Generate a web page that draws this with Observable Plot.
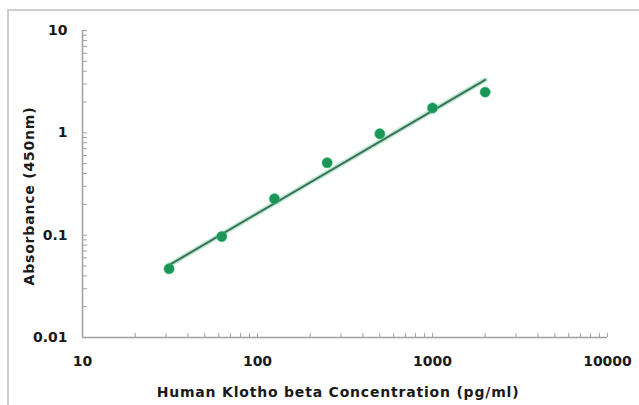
<!DOCTYPE html>
<html>
<head>
<meta charset="utf-8">
<script src="https://cdn.jsdelivr.net/npm/d3@7"></script>
<script src="https://cdn.jsdelivr.net/npm/@observablehq/plot@0.6"></script>
<style>
  html, body { margin: 0; padding: 0; background: #fff; overflow: hidden; }
  #wrap { position: relative; width: 639px; height: 405px; }
  #frame { position: absolute; left: 7px; top: 9px; width: 640px; height: 400px;
           border-left: 2px solid #cfcfcf; border-top: 2px solid #cfcfcf; pointer-events: none; }
  #wrap svg { position: absolute; left: 0; top: 0; }
  .xlab text { letter-spacing: 0.8px; }
  .ylab text { letter-spacing: 0.8px; }
</style>
</head>
<body>
<div id="wrap"><div id="frame"></div></div>
<script>
// Data
const concentration = [31.25, 62.5, 125, 250, 500, 1000, 2000];
const absorbance = [0.047, 0.097, 0.227, 0.51, 0.98, 1.75, 2.5];
// fitted line end points
const fitX = [31.25, 2000];
const fitY = [0.051, 3.3];
const xMajor = [10, 100, 1000, 10000];
const yMajor = [0.01, 0.1, 1, 10];
const xLabel = "Human Klotho beta Concentration (pg/ml)";
const yLabel = "Absorbance (450nm)";

const points = concentration.map((x, i) => ({x, y: absorbance[i]}));
const fit = fitX.map((x, i) => ({x, y: fitY[i]}));
const minor = (majors) => majors.slice(0, -1).flatMap(m => d3.range(1, 10).map(k => m * k)).concat(majors.slice(-1));
const xTicks = minor(xMajor);
const yTicks = minor(yMajor);

const font = "'DejaVu Sans', 'Liberation Sans', Arial, sans-serif";
const chart = Plot.plot({
  width: 639,
  height: 405,
  marginLeft: 82,
  marginRight: 32,
  marginTop: 30,
  marginBottom: 68,
  style: {fontFamily: font, background: "transparent", overflow: "visible"},
  x: {type: "log", domain: [10, 10000]},
  y: {type: "log", domain: [0.01, 10]},
  marks: [
    Plot.axisX({ticks: xTicks, tickSize: -4, tickFormat: () => "", stroke: "#a0a0a0", label: null}),
    Plot.axisY({ticks: yTicks, tickSize: -5, tickFormat: () => "", stroke: "#a0a0a0", label: null}),
    Plot.axisX({ticks: xMajor, tickSize: 0, tickPadding: 19, tickFormat: d => String(d),
      fontSize: 14, fontWeight: "bold", fill: "#1a1a1a", label: null}),
    Plot.axisY({ticks: yMajor, tickSize: 0, tickPadding: 15, tickFormat: d => String(d),
      fontSize: 14, fontWeight: "bold", fill: "#1a1a1a", label: null}),
    Plot.ruleX([10], {stroke: "#a0a0a0", strokeWidth: 1.5}),
    Plot.ruleY([0.01], {stroke: "#a0a0a0", strokeWidth: 1.5}),
    Plot.line(fit, {x: "x", y: "y", stroke: "#3fc985", strokeWidth: 5, strokeOpacity: 0.35}),
    Plot.line(fit, {x: "x", y: "y", stroke: "#3f6e57", strokeWidth: 2}),
    Plot.dot(points, {x: "x", y: "y", r: 5.2, fill: "#1b9656", stroke: "#3fc985", strokeWidth: 1, strokeOpacity: 0.5}),
    Plot.text([xLabel], {frameAnchor: "bottom", text: d => d, dy: 55, dx: -7,
      textAnchor: "middle", lineAnchor: "middle", className: "xlab",
      fontSize: 14, fontWeight: "bold", fill: "#1a1a1a"}),
    Plot.text([yLabel], {frameAnchor: "left", text: d => d, rotate: -90, dx: -53, dy: 12,
      textAnchor: "middle", lineAnchor: "middle", className: "ylab",
      fontSize: 14, fontWeight: "bold", fill: "#1a1a1a"})
  ]
});
document.getElementById("wrap").prepend(chart);
</script>
</body>
</html>
